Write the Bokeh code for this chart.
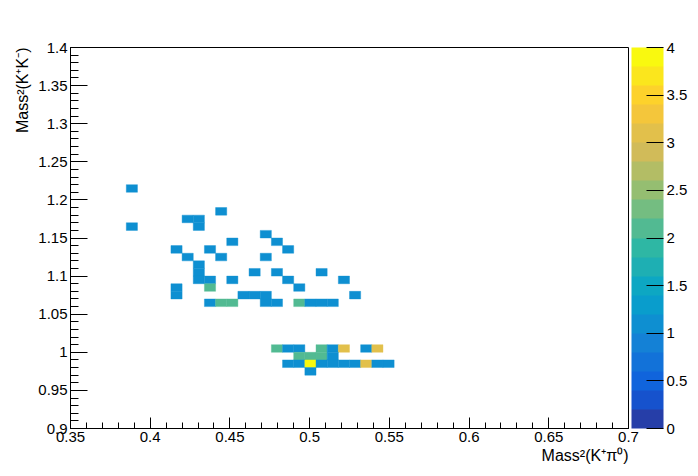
import math
from bokeh.plotting import figure
from bokeh.models import (LinearColorMapper, ColorBar, FixedTicker,
                          CustomJSTickFormatter, Title, ColumnDataSource)
from bokeh.embed import file_html
from bokeh.resources import INLINE

# ---------------- data (bin centres and contents) ----------------
x_bin_width = 0.007
y_bin_width = 0.01

x_center = [
    0.3885,
    0.4445,
    0.4235, 0.4305,
    0.3885, 0.4305,
    0.4725,
    0.4515, 0.4795,
    0.4165, 0.4375, 0.4865,
    0.4235, 0.4445, 0.4725,
    0.4305,
    0.4305, 0.4655, 0.4795, 0.5075,
    0.4305, 0.4375, 0.4515, 0.4865, 0.5215,
    0.4165, 0.4375, 0.4935,
    0.4165, 0.4585, 0.4655, 0.4725, 0.5285,
    0.4375, 0.4445, 0.4515, 0.4725, 0.4795, 0.4935, 0.5005, 0.5075, 0.5145,
    0.4795, 0.4865, 0.4935, 0.5075, 0.5145, 0.5215, 0.5355, 0.5425,
    0.4935, 0.5005, 0.5075, 0.5145,
    0.4865, 0.4935, 0.5005, 0.5075, 0.5145, 0.5215, 0.5285, 0.5355, 0.5425, 0.5495,
    0.5005,
]
y_center = [
    1.215,
    1.185,
    1.175, 1.175,
    1.165, 1.165,
    1.155,
    1.145, 1.145,
    1.135, 1.135, 1.135,
    1.125, 1.125, 1.125,
    1.115,
    1.105, 1.105, 1.105, 1.105,
    1.095, 1.095, 1.095, 1.095, 1.095,
    1.085, 1.085, 1.085,
    1.075, 1.075, 1.075, 1.075, 1.075,
    1.065, 1.065, 1.065, 1.065, 1.065, 1.065, 1.065, 1.065, 1.065,
    1.005, 1.005, 1.005, 1.005, 1.005, 1.005, 1.005, 1.005,
    0.995, 0.995, 0.995, 0.995,
    0.985, 0.985, 0.985, 0.985, 0.985, 0.985, 0.985, 0.985, 0.985, 0.985,
    0.975,
]
counts = [
    1,
    1,
    1, 1,
    1, 1,
    1,
    1, 1,
    1, 1, 1,
    1, 1, 1,
    1,
    1, 1, 1, 1,
    1, 1, 1, 1, 1,
    1, 2, 1,
    1, 1, 1, 1, 1,
    1, 2, 2, 1, 1, 2, 1, 1, 1,
    2, 1, 1, 2, 1, 3, 1, 3,
    2, 2, 2, 1,
    1, 1, 4, 1, 1, 1, 1, 3, 1, 1,
    1,
]

x_ticks = [0.35, 0.4, 0.45, 0.5, 0.55, 0.6, 0.65, 0.7]
y_ticks = [0.9, 0.95, 1.0, 1.05, 1.1, 1.15, 1.2, 1.25, 1.3, 1.35, 1.4]
z_ticks = [0, 0.5, 1, 1.5, 2, 2.5, 3, 3.5, 4]
x_range = (0.35, 0.7)
y_range = (0.9, 1.4)
z_range = (0, 4)

x_title = "Mass\u00b2(K\u207a\u03c0\u2070)"
y_title = "Mass\u00b2(K\u207aK\u207b)"

# ---------------- ROOT kBird palette, 20 contour bands ----------------
stops = [0.0000, 0.1250, 0.2500, 0.3750, 0.5000, 0.6250, 0.7500, 0.8750, 1.0000]
red = [0.2082, 0.0592, 0.0780, 0.0232, 0.1802, 0.5301, 0.8186, 0.9956, 0.9764]
green = [0.1664, 0.3599, 0.5041, 0.6419, 0.7178, 0.7492, 0.7328, 0.7862, 0.9832]
blue = [0.5293, 0.8684, 0.8385, 0.7914, 0.6425, 0.4662, 0.3499, 0.1968, 0.0539]
NCOL = 255
pal255 = []
for g in range(1, len(stops)):
    n = int(math.floor(NCOL * stops[g]) - math.floor(NCOL * stops[g - 1]))
    for c in range(n):
        r = red[g - 1] + c * (red[g] - red[g - 1]) / n
        gg = green[g - 1] + c * (green[g] - green[g - 1]) / n
        b = blue[g - 1] + c * (blue[g] - blue[g - 1]) / n
        pal255.append("#%02x%02x%02x" % (int(round(r * 255)), int(round(gg * 255)), int(round(b * 255))))
NDIV = 20
bands = []
for k in range(NDIV):
    idx = int((k + 0.99) * NCOL / NDIV)
    bands.append(pal255[min(idx, NCOL - 1)])

mapper = LinearColorMapper(palette=bands, low=z_range[0], high=z_range[1])

# ---------------- figure ----------------
FONT = "Liberation Sans"
p = figure(frame_width=558, frame_height=381,
           x_range=x_range, y_range=y_range,
           output_backend="svg", toolbar_location=None,
           min_border_left=70, min_border_top=47, min_border_bottom=40,
           min_border_right=0,
           background_fill_color="white", border_fill_color="white")
p.grid.visible = False
p.outline_line_color = "black"
p.outline_line_width = 1

src = ColumnDataSource(dict(x=x_center, y=y_center, z=counts))
p.rect(x="x", y="y", width=x_bin_width, height=y_bin_width, source=src,
       fill_color={"field": "z", "transform": mapper},
       line_color={"field": "z", "transform": mapper}, line_width=0.4)

fmt = CustomJSTickFormatter(code="return String(parseFloat(tick.toFixed(2)));")

x_minor = [round(0.35 + 0.01 * i, 3) for i in range(36)]
y_minor = [round(0.9 + 0.01 * i, 3) for i in range(51)]

xa = p.xaxis[0]
xa.ticker = FixedTicker(ticks=x_ticks, minor_ticks=x_minor)
xa.formatter = fmt
xa.major_tick_in = 11
xa.major_tick_out = 0
xa.minor_tick_in = 6
xa.minor_tick_out = 0
xa.major_label_standoff = 3

ya = p.yaxis[0]
ya.ticker = FixedTicker(ticks=y_ticks, minor_ticks=y_minor)
ya.formatter = fmt
ya.major_tick_in = 17
ya.major_tick_out = 0
ya.minor_tick_in = 8
ya.minor_tick_out = 0
ya.major_label_standoff = 3

for ax in (xa, ya):
    ax.major_label_text_font = FONT
    ax.major_label_text_font_size = "15px"
    ax.major_label_text_color = "black"
    ax.major_tick_line_color = "black"
    ax.minor_tick_line_color = "black"
    ax.axis_line_color = "black"

cb = ColorBar(color_mapper=mapper, ticker=FixedTicker(ticks=z_ticks),
              formatter=fmt, width=32, height=381, padding=0, margin=0,
              location=(3, 0),
              major_tick_in=17, major_tick_out=0,
              major_tick_line_color="black", minor_tick_line_color=None,
              label_standoff=3, bar_line_color=None, border_line_color=None,
              background_fill_color=None,
              major_label_text_font=FONT, major_label_text_font_size="15px",
              major_label_text_color="black")
p.add_layout(cb, "right")

p.add_layout(Title(text=x_title, align="right", text_font=FONT,
                   text_font_size="16px", text_font_style="normal",
                   text_color="black", standoff=0), "below")
p.add_layout(Title(text=y_title, align="right", text_font=FONT,
                   text_font_size="16px", text_font_style="normal",
                   text_color="black", standoff=10), "left")

open("out.html", "w").write(file_html(p, INLINE))
